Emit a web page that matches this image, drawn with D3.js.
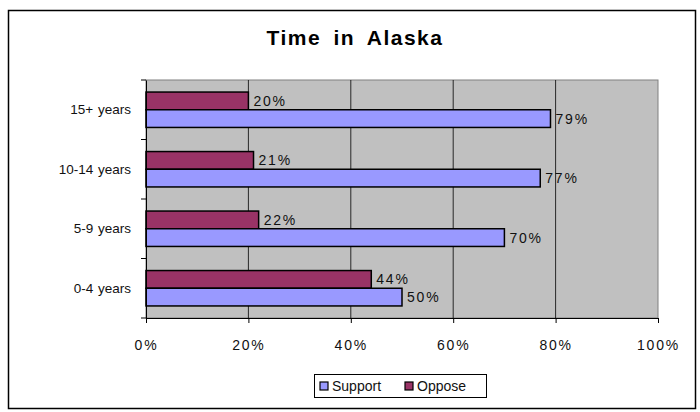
<!DOCTYPE html>
<html><head><meta charset="utf-8">
<script src="https://cdn.jsdelivr.net/npm/d3@7"></script>
<style>body{margin:0;background:#fff}svg{display:block}text{font-family:Arial,"Liberation Sans",sans-serif}</style>
</head><body><svg id="c" width="700" height="412"></svg>
<script>
const categories = ["15+  years","10-14  years","5-9  years","0-4  years"];
const support = [79,77,70,50];
const oppose = [20,21,22,44];
const ticks = [0,20,40,60,80,100];
const seriesNames = ["Support","Oppose"];
const colors = {Support:"#9999FF", Oppose:"#993366"};

const svg = d3.select("#c");
svg.append("rect").attr("x",8.5).attr("y",10.5).attr("width",687).attr("height",398)
  .attr("fill","#fff").attr("stroke","#000").attr("stroke-width",1.5);
svg.append("text").attr("x",355).attr("y",45).attr("text-anchor","middle")
  .attr("font-size",21).attr("font-weight","bold").attr("letter-spacing",1.5).attr("word-spacing",5).text("Time in Alaska");

const L=146,R=658,T=80,B=318;
const x = d3.scaleLinear().domain([0,100]).range([L,R]);
const y = d3.scaleBand().domain(categories).range([T,B]);
const inner = d3.scaleBand().domain(["Oppose","Support"]).range([0,35.4]);
const off = (y.bandwidth()-35.4)/2;

svg.append("rect").attr("x",L).attr("y",T).attr("width",R-L).attr("height",B-T)
  .attr("fill","#C0C0C0").attr("stroke","#808080");
const g = svg.append("g");
ticks.slice(1,-1).forEach(t=>{
  g.append("line").attr("x1",x(t)).attr("x2",x(t)).attr("y1",T).attr("y2",B).attr("stroke","#000").attr("stroke-width",0.8);
});

const data = [];
categories.forEach((c,i)=>{
  data.push({c, s:"Oppose", v:oppose[i]});
  data.push({c, s:"Support", v:support[i]});
});
svg.selectAll("rect.bar").data(data).enter().append("rect").attr("class","bar")
  .attr("x",x(0)).attr("y",d=>y(d.c)+off+inner(d.s))
  .attr("width",d=>x(d.v)-x(0)).attr("height",inner.bandwidth())
  .attr("fill",d=>colors[d.s]).attr("stroke","#000").attr("stroke-width",1.5);
svg.selectAll("text.lbl").data(data).enter().append("text").attr("class","lbl")
  .attr("x",d=>x(d.v)+5).attr("y",d=>y(d.c)+off+inner(d.s)+inner.bandwidth()/2+5)
  .attr("font-size",14).attr("letter-spacing",1.8).attr("fill","#111").text(d=>d.v+"%");

// axes
const xa = svg.append("g").attr("transform",`translate(0,${B})`)
  .call(d3.axisBottom(x).tickValues(ticks).tickFormat(d=>d+"%").tickSize(5).tickSizeOuter(0));
xa.select(".domain").attr("stroke","#000");
xa.selectAll("text").attr("font-size",14).attr("letter-spacing",1.8).attr("y",32).attr("dy",0).attr("fill","#111");
const ya = svg.append("g").attr("transform",`translate(${L},0)`)
  .call(d3.axisLeft(y).tickSize(0).tickSizeOuter(0));
ya.select(".domain").attr("stroke","#000");
ya.selectAll("text").attr("font-size",13.5).attr("x",-15).attr("fill","#111").attr("word-spacing",1);
// band-boundary ticks
[T,...categories.map(c=>y(c)+y.bandwidth())].forEach(v=>{
  svg.append("line").attr("x1",L-5).attr("x2",L).attr("y1",v).attr("y2",v).attr("stroke","#000");
});

// legend
const lg = svg.append("g");
lg.append("rect").attr("x",314.5).attr("y",374.5).attr("width",172).attr("height",23).attr("fill","#fff").attr("stroke","#000");
const lx = [320, 405];
seriesNames.forEach((s,i)=>{
  lg.append("rect").attr("x",lx[i]).attr("y",382).attr("width",8).attr("height",8).attr("fill",colors[s]).attr("stroke","#000").attr("stroke-width",1.2);
  lg.append("text").attr("x",lx[i]+12).attr("y",391).attr("font-size",14).attr("fill","#111").text(s);
});
</script></body></html>
